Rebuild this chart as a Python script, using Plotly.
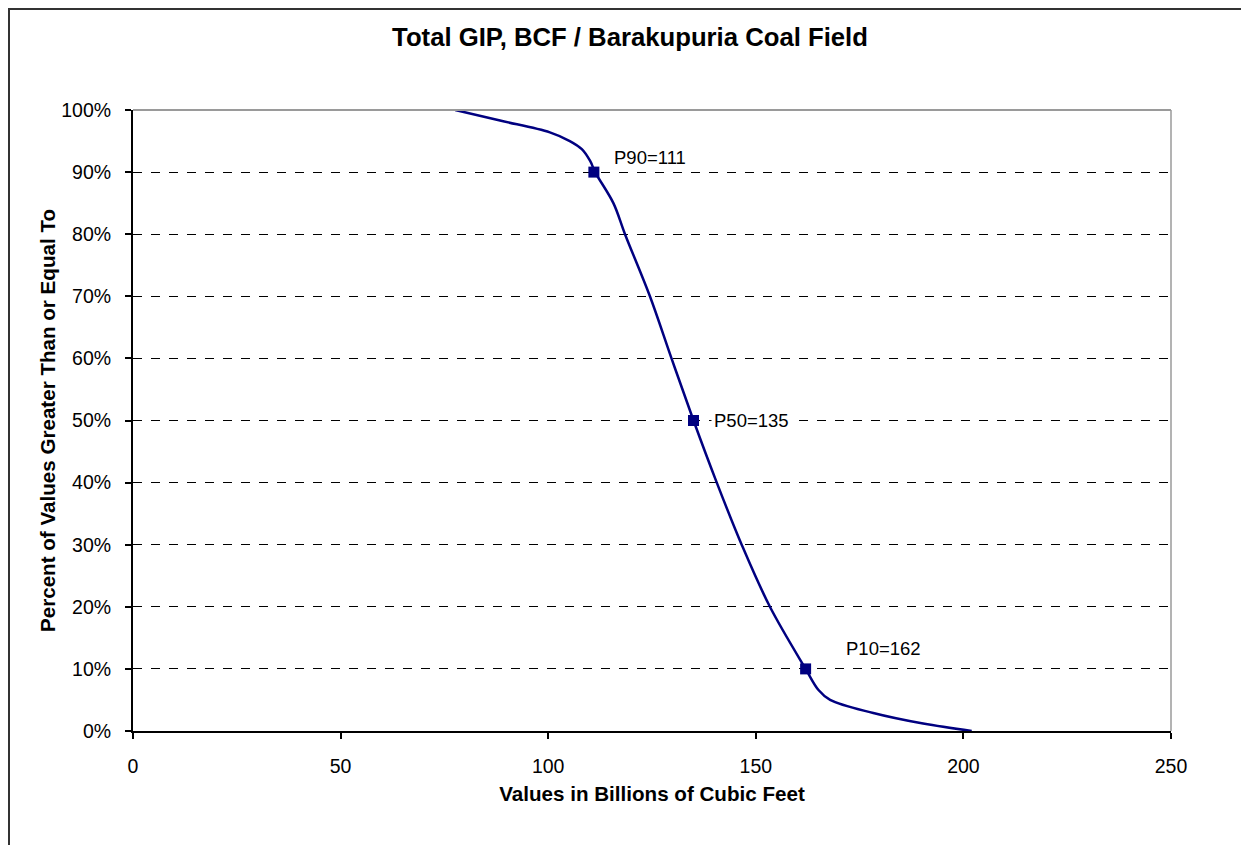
import plotly.graph_objects as go

# Curve (value in BCF, percent >= value)
gip_values = [77.6, 88.4, 100.4, 105.2, 108.1, 110.1, 111.3, 115.7, 118.5, 124.5,
              129.7, 135.0, 140.6, 146.6, 153.4, 162.0, 165.1, 167.9, 178.3, 190.3, 202.0]
pct_values = [100, 98.3, 96.4, 95.0, 93.7, 91.8, 90, 85, 80, 70,
              60, 50, 40, 30, 20, 10, 6.6, 5.0, 2.9, 1.2, 0]

p_labels = ["P90=111", "P50=135", "P10=162"]
p_values = [111, 135, 162]
p_pcts = [90, 50, 10]

x_ticks = [0, 50, 100, 150, 200, 250]
y_ticks = [0, 10, 20, 30, 40, 50, 60, 70, 80, 90, 100]
y_ticktext = [f"{v}%" for v in y_ticks]

NAVY = "#000080"
FONT = "Liberation Sans, Arial, sans-serif"

# page offset (browser body margin)
OFF = 8
L, T = 133 - OFF, 110 - OFF
PW, PH = 1038, 621
R = 1249 - PW - L
B = 845 - PH - T

fig = go.Figure()
fig.add_trace(go.Scatter(x=gip_values, y=pct_values, mode="lines",
                         line=dict(color=NAVY, width=2.5, shape="spline", smoothing=1.0),
                         hoverinfo="skip", showlegend=False))
fig.add_trace(go.Scatter(x=p_values, y=p_pcts, mode="markers",
                         marker=dict(symbol="square", size=11, color=NAVY),
                         showlegend=False))

shifts = [(17, 15), (17, 0), (37, 20)]
for lab, xv, yv, (xs, ys) in zip(p_labels, p_values, p_pcts, shifts):
    fig.add_annotation(x=xv, y=yv, text=lab, showarrow=False, xanchor="left",
                       yanchor="middle", xshift=xs, yshift=ys,
                       font=dict(family=FONT, size=18.5, color="#000000"),
                       bgcolor="white" if ys == 0 else "rgba(0,0,0,0)", borderpad=2)

# outer chart border (left/top at figure edge, extends beyond right and bottom)
fig.add_shape(type="rect", xref="paper", yref="paper",
              x0=(-L + 1) / PW, x1=(1262 - 133) / PW,
              y0=-0.25, y1=(PH + T - 1) / PH,
              line=dict(color="#333333", width=2), layer="below")
# plot area top/right border in gray
fig.add_shape(type="line", xref="paper", yref="paper", x0=0, x1=1, y0=1, y1=1,
              line=dict(color="#9a9a9a", width=2))
fig.add_shape(type="line", xref="paper", yref="paper", x0=1, x1=1, y0=0, y1=1,
              line=dict(color="#9a9a9a", width=1.5))

fig.update_layout(
    width=1249, height=845,
    margin=dict(l=L, r=R, t=T, b=B),
    paper_bgcolor="white", plot_bgcolor="white",
    font=dict(family=FONT, size=19, color="#000000"),
    title=dict(text="<b>Total GIP, BCF / Barakupuria Coal Field</b>",
               x=(630 - OFF) / 1249, xanchor="center", y=1 - (37 - OFF) / 845, yanchor="middle",
               font=dict(family=FONT, size=25.7, color="#000000")),
    xaxis=dict(range=[0, 250], tickvals=x_ticks, showgrid=False, zeroline=False,
               showline=True, linecolor="#000000", linewidth=2,
               ticks="outside", ticklen=6, tickwidth=2, tickcolor="#000000",
               tickfont=dict(size=19.5), ticklabelstandoff=11,
               title=dict(text="<b>Values in Billions of Cubic Feet</b>",
                          font=dict(size=20.6), standoff=10)),
    yaxis=dict(range=[0, 100], tickvals=y_ticks, ticktext=y_ticktext,
               showgrid=True, gridcolor="#000000", gridwidth=1, griddash="dash",
               zeroline=False, showline=True, linecolor="#000000", linewidth=2,
               ticks="outside", ticklen=6, tickwidth=2, tickcolor="#000000",
               tickfont=dict(size=19.5), ticklabelstandoff=10,
               title=dict(text="<b>Percent of Values Greater Than or Equal To</b>",
                          font=dict(size=20.6), standoff=0)),
)

fig.write_html("out.html")
